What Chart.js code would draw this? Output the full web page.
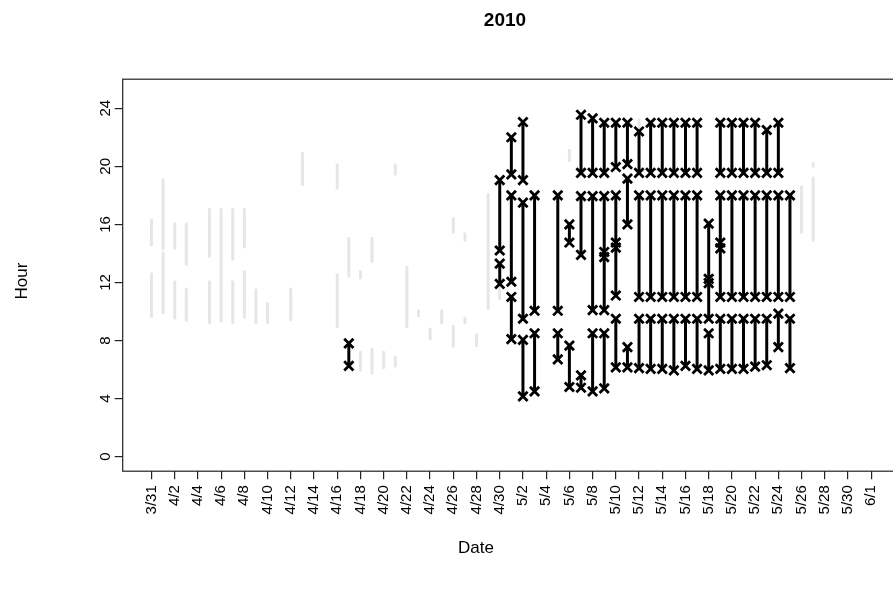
<!DOCTYPE html>
<html>
<head>
<meta charset="utf-8">
<title>2010</title>
<script src="https://cdn.jsdelivr.net/npm/chart.js@4.4.1/dist/chart.umd.min.js"></script>
<style>
  html, body { margin: 0; padding: 0; background: #fff; overflow: hidden; }
  canvas { display: block; }
</style>
</head>
<body>
<canvas id="c" width="900" height="591"></canvas>
<script>
// Day index 0 = 3/31. Tick every 2 days through 6/1.
const tickDays = [0,2,4,6,8,10,12,14,16,18,20,22,24,26,28,30,32,34,36,38,40,42,44,46,48,50,52,54,56,58,60,62];
const dateLabels = ['3/31','4/2','4/4','4/6','4/8','4/10','4/12','4/14','4/16','4/18','4/20','4/22','4/24','4/26','4/28','4/30',
                    '5/2','5/4','5/6','5/8','5/10','5/12','5/14','5/16','5/18','5/20','5/22','5/24','5/26','5/28','5/30','6/1'];
const hourTicks = [0, 4, 8, 12, 16, 20, 24];

// Light grey intervals: day, start hour, end hour
const greyDay  = [0, 0, 1, 1, 2, 2, 3, 3, 5, 5, 6, 7, 7, 8, 8, 9, 10, 12, 13, 16, 16, 17, 18, 18, 19, 19, 20, 21, 21, 22, 23, 24, 25, 26, 26, 27, 27, 28, 29, 30, 36, 42, 56, 57, 57];
const greyFrom = [16.3, 12.6, 19.05, 14.05, 16.05, 12.05, 16.05, 11.55, 17.05, 12.05, 17.05, 17.05, 12.05, 17.05, 12.75, 11.5, 10.55, 11.55, 20.9, 20.1, 12.55, 15.05, 12.75, 7.2, 15.05, 7.4, 7.2, 20.1, 6.85, 13.05, 10.05, 8.8, 10.05, 16.4, 9.0, 15.35, 9.55, 8.4, 18.05, 11.8, 21.1, 23.2, 18.6, 20.2, 19.2];
const greyTo   = [14.6, 9.65, 14.3, 9.9, 14.35, 9.55, 13.25, 9.4, 13.8, 9.2, 9.35, 13.6, 9.25, 14.45, 9.6, 9.25, 9.25, 9.45, 18.75, 18.5, 8.95, 12.45, 12.3, 5.95, 13.45, 5.75, 6.15, 19.45, 6.25, 8.95, 9.7, 8.1, 9.2, 15.45, 7.6, 14.9, 9.2, 7.65, 10.2, 10.9, 20.4, 22.5, 15.45, 20.0, 14.9];

// Black intervals with marked ends: day, start hour, end hour
const onDay  = [17,
  30, 30,
  31, 31, 31,
  32, 32, 32,
  33, 33,
  35, 35,
  36, 36,
  37, 37, 37,
  38, 38, 38,
  39, 39, 39, 39,
  40, 40, 40, 40,
  41, 41, 41,
  42, 42, 42,
  43, 43, 43,
  44, 44, 44,
  45, 45, 45,
  46, 46, 46,
  47, 47, 47,
  48, 48, 48,
  49, 49, 49, 49,
  50, 50, 50,
  51, 51, 51,
  52, 52, 52,
  53, 53, 53,
  54, 54, 54,
  55, 55];
const onFrom = [7.8,
  19.05, 13.3,
  22.0, 18.0, 11.0,
  23.05, 17.5, 8.05,
  18.0, 8.5,
  18.0, 8.5,
  16.0, 7.65,
  23.55, 17.95, 5.6,
  23.3, 17.95, 8.5,
  23.0, 17.95, 14.1, 8.5,
  23.0, 18.0, 14.75, 9.5,
  23.0, 19.15, 7.55,
  22.4, 18.0, 9.5,
  23.0, 18.0, 9.5,
  23.0, 18.0, 9.5,
  23.0, 18.0, 9.5,
  23.0, 18.0, 9.5,
  23.0, 18.0, 9.5,
  16.05, 12.25, 8.5,
  23.0, 18.0, 14.75, 9.5,
  23.0, 18.0, 9.5,
  23.0, 18.0, 9.5,
  23.0, 18.0, 9.5,
  22.5, 18.0, 9.5,
  23.0, 18.0, 9.85,
  18.0, 9.5];
const onTo = [6.25,
  14.2, 11.9,
  19.45, 12.05, 8.1,
  19.05, 9.5, 4.15,
  10.05, 4.5,
  10.05, 6.7,
  14.75, 4.8,
  19.55, 13.9, 4.75,
  19.55, 10.1, 4.5,
  19.55, 10.1, 13.75, 4.7,
  19.95, 11.1, 14.4, 6.15,
  20.15, 16.0, 6.15,
  19.55, 11.0, 6.1,
  19.55, 11.0, 6.05,
  19.55, 11.0, 6.05,
  19.55, 11.0, 5.95,
  19.55, 11.0, 6.25,
  19.55, 11.0, 6.05,
  9.5, 11.95, 5.95,
  19.55, 11.0, 14.35, 6.05,
  19.55, 11.0, 6.05,
  19.55, 11.0, 6.05,
  19.55, 11.0, 6.2,
  19.55, 11.0, 6.3,
  19.55, 11.0, 7.55,
  11.0, 6.1];

// Each interval becomes two points followed by a gap.
function segmentPoints(days, from, to) {
  const pts = [];
  days.forEach((d, i) => {
    pts.push({ x: d, y: from[i] }, { x: d, y: to[i] }, { x: d, y: null });
  });
  return pts;
}

const FONT = '"Liberation Sans", Arial, Helvetica, sans-serif';

const frameAndText = {
  id: 'frameAndText',
  afterDraw(chart) {
    const { ctx, chartArea: a, scales } = chart;
    ctx.save();
    // plot box
    ctx.strokeStyle = '#222';
    ctx.lineWidth = 1.2;
    ctx.strokeRect(a.left, a.top, a.right - a.left, a.bottom - a.top);

    ctx.fillStyle = '#000';
    // y tick labels, parallel to the axis
    ctx.font = '15px ' + FONT;
    ctx.textAlign = 'center';
    ctx.textBaseline = 'alphabetic';
    hourTicks.forEach(v => {
      const y = scales.y.getPixelForValue(v);
      ctx.save();
      ctx.translate(110, y);
      ctx.rotate(-Math.PI / 2);
      ctx.fillText(String(v), 0, 0);
      ctx.restore();
    });

    // axis titles
    ctx.textBaseline = 'middle';
    ctx.font = '17px ' + FONT;
    ctx.fillText('Date', 476, 548);
    ctx.save();
    ctx.translate(22, 281);
    ctx.rotate(-Math.PI / 2);
    ctx.fillText('Hour', 0, 0);
    ctx.restore();

    // main title
    ctx.font = 'bold 19px ' + FONT;
    ctx.fillText('2010', 505, 21);
    ctx.restore();
  }
};

new Chart(document.getElementById('c'), {
  type: 'line',
  data: {
    datasets: [
      {
        label: 'active',
        data: segmentPoints(onDay, onFrom, onTo),
        order: 1,
        borderColor: '#000',
        borderWidth: 3,
        borderCapStyle: 'round',
        pointStyle: 'crossRot',
        pointRadius: 6.5,
        pointBorderWidth: 2.8,
        pointBorderColor: '#000',
        pointBackgroundColor: '#000',
        spanGaps: false,
        tension: 0
      },
      {
        label: 'background',
        data: segmentPoints(greyDay, greyFrom, greyTo),
        order: 2,
        borderColor: '#e6e6e6',
        borderWidth: 3,
        borderCapStyle: 'round',
        pointRadius: 0,
        spanGaps: false,
        tension: 0
      }
    ]
  },
  options: {
    responsive: false,
    animation: false,
    events: [],
    layout: { padding: { top: 79.2, left: 0, right: 0, bottom: 0 }, autoPadding: false },
    plugins: {
      legend: { display: false },
      tooltip: { enabled: false },
      title: { display: false }
    },
    scales: {
      x: {
        type: 'linear',
        min: -2.48,
        max: 64.48,
        afterBuildTicks: s => { s.ticks = tickDays.map(v => ({ value: v })); },
        afterFit: s => { s.height = 591 - 471.2; },
        ticks: {
          autoSkip: false,
          minRotation: 90,
          maxRotation: 90,
          padding: 6,
          color: '#000',
          font: { family: FONT, size: 15 },
          callback: (v, i) => dateLabels[i]
        },
        grid: { drawOnChartArea: false, drawTicks: true, tickLength: 8, color: '#222', lineWidth: 1.2 },
        border: { display: false }
      },
      y: {
        type: 'linear',
        min: -1,
        max: 26,
        afterBuildTicks: s => { s.ticks = hourTicks.map(v => ({ value: v })); },
        afterFit: s => { s.width = 122.7; },
        ticks: { display: false },
        grid: { drawOnChartArea: false, drawTicks: true, tickLength: 8, color: '#222', lineWidth: 1.2 },
        border: { display: false }
      }
    }
  },
  plugins: [frameAndText]
});
</script>
</body>
</html>
